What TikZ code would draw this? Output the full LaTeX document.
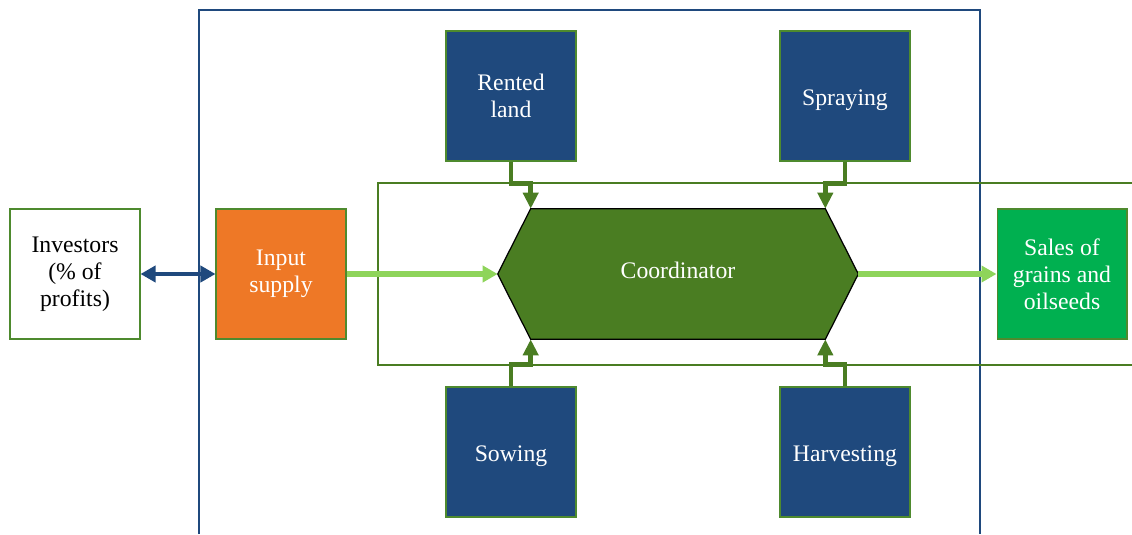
\documentclass[tikz,border=0pt]{standalone}
\usepackage{fontspec}
\setmainfont{Liberation Serif}
\usetikzlibrary{arrows.meta,backgrounds}
\definecolor{boxblue}{HTML}{1F497D}
\definecolor{boxorange}{HTML}{EE7826}
\definecolor{boxgreen}{HTML}{00B050}
\definecolor{darkleaf}{HTML}{4A7D22}
\definecolor{lightleaf}{HTML}{8ED45A}
\definecolor{rimgreen}{HTML}{4E8A2E}
\tikzset{
  box/.style={shape=rectangle,draw=rimgreen,line width=0.6pt,minimum width=2.6cm,minimum height=2.6cm,
    inner sep=0pt,align=center,font=\fontsize{13.5}{15.3}\selectfont},
  bluebox/.style={box,fill=boxblue,text=white},
  oneline/.style={text height=11.5pt,text depth=1pt},
  feed/.style={draw=darkleaf,line width=2.8pt,-{Triangle[length=0.32cm,width=0.3cm]}},
  flow/.style={draw=lightleaf,line width=3pt,-{Triangle[length=0.3cm,width=0.32cm]}},
  share/.style={draw=boxblue,line width=2.8pt,{Triangle[length=0.3cm,width=0.32cm]}-{Triangle[length=0.3cm,width=0.32cm]}}
}
\begin{document}
\begin{tikzpicture}[x=0.02cm,y=-0.02cm]
            \useasboundingbox (0,0) rectangle (1132,534);
            % frames
            \draw[boxblue,line width=0.7pt] (199,534) -- (199,10) -- (980,10) -- (980,534);
            \draw[darkleaf,line width=0.7pt] (1132,183) -- (378,183) -- (378,365) -- (1132,365);
            % nodes
            \node[box,fill=white] (inv) at (75,274) {Investors\\(\% of\\profits)};
            \node[box,fill=boxorange,text=white] (inp) at (281,274) {Input\\supply};
            \node[bluebox] (rent) at (511,96) {Rented\\land};
            \node[bluebox,oneline] (spray) at (845,96) {Spraying};
            \node[bluebox,oneline] (sow) at (511,452) {Sowing};
            \node[bluebox,oneline] (harv) at (845,452) {Harvesting};
            \node[box,fill=boxgreen,text=white] (sales) at (1062,274) {Sales of\\grains and\\oilseeds};
            \node[shape=rectangle,minimum width=5.88cm,minimum height=2.6cm,inner sep=0pt,text=white,
              text height=9.5pt,text depth=3.9pt,font=\fontsize{13.5}{15.3}\selectfont] (coord) at (678,274) {Coordinator};
            \coordinate (coordW) at ([xshift=-0.66cm]coord.west);
            \coordinate (coordE) at ([xshift=0.66cm]coord.east);
            \begin{scope}[on background layer]
              \draw[fill=darkleaf,draw=black,line width=0.7pt] (coord.north west) -- (coord.north east) -- (coordE)
                -- (coord.south east) -- (coord.south west) -- (coordW) -- cycle;
            \end{scope}
            % connectors
            \path[share] (inv) -- (inp);
            \path[flow] (inp) -- (coordW);
            \path[flow] (coordE) -- (sales);
            \path[feed] (rent.south) -- ++(0,22) -| (coord.north west);
            \path[feed] (spray.south) -- ++(0,22) -| (coord.north east);
            \path[feed] (sow.north) -- ++(0,-22) -| (coord.south west);
            \path[feed] (harv.north) -- ++(0,-22) -| (coord.south east);
        \end{tikzpicture}
\end{document}
